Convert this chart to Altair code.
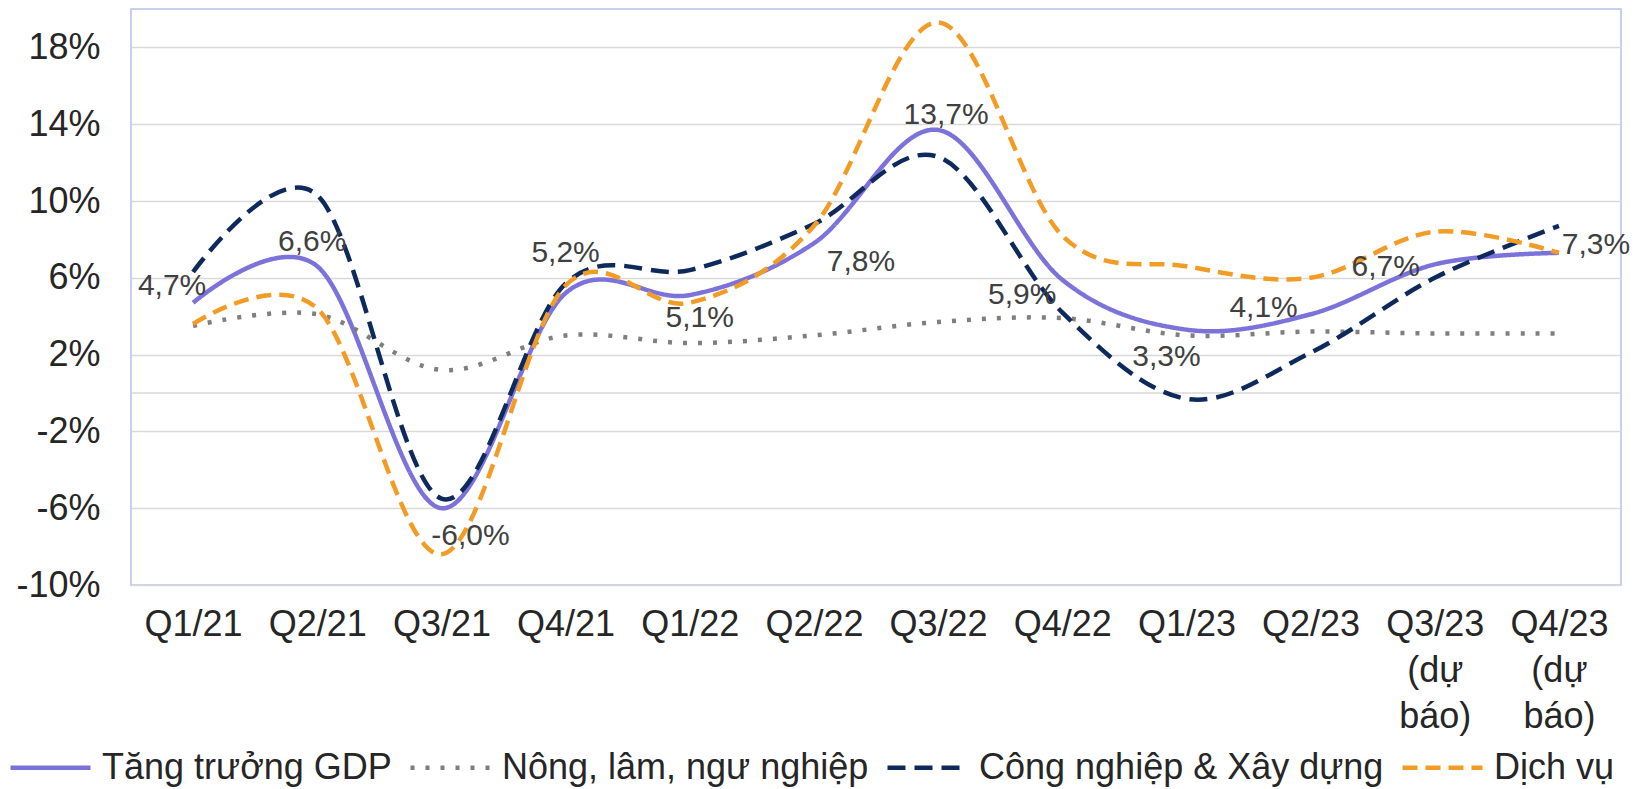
import altair as alt
import pandas as pd

# ---------------- data ----------------
CATEGORIES = ["Q1/21", "Q2/21", "Q3/21", "Q4/21", "Q1/22", "Q2/22", "Q3/22",
              "Q4/22", "Q1/23", "Q2/23", "Q3/23\n(dự\nbáo)", "Q4/23\n(dự\nbáo)"]
SERIES = ["Tăng trưởng GDP", "Nông, lâm, ngư nghiệp", "Công nghiệp & Xây dựng", "Dịch vụ"]
GDP = [4.7, 6.6, -6.0, 5.2, 5.1, 7.8, 13.7, 5.9, 3.3, 4.1, 6.7, 7.3]
AGRI = [3.5, 4.1, 1.2, 3.0, 2.6, 3.0, 3.7, 3.9, 3.0, 3.2, 3.1, 3.1]
INDUSTRY = [6.3, 10.3, -5.5, 5.7, 6.4, 8.8, 12.3, 4.2, -0.3, 2.1, 6.0, 8.7]
SERVICES = [3.6, 4.4, -8.4, 5.6, 4.7, 8.7, 19.3, 8.2, 6.6, 6.0, 8.4, 7.3]
Y_TICKS = [-10, -6, -2, 2, 6, 10, 14, 18]

# ---------------- style ----------------
COLORS = ["#7B72DA", "#7F7F7F", "#0E2A5C", "#F29C25"]
DASHES = [[1, 0], [4, 11], [18, 9], [15, 8]]
# data-label offsets (dx, dy) in px, one per category (Excel-like label placement)
LABEL_OFFSETS = [(-21, -17), (-5, -24), (29, 28), (0, -40), (10, 23), (47, 19),
                 (8, -15), (-40, 15), (-20, 27), (-47, -6), (-49, 3), (37, -8)]
FONT = "Liberation Sans"

rows = []
for s, vals in zip(SERIES, [GDP, AGRI, INDUSTRY, SERVICES]):
    for i, (c, v) in enumerate(zip(CATEGORIES, vals)):
        rows.append({"cat": c, "series": s, "value": v, "idx": i})
df = pd.DataFrame(rows)
gdp_df = pd.DataFrame({"cat": CATEGORIES, "value": GDP, "idx": list(range(len(GDP)))})

x_scale = alt.Scale(type="point", padding=0.5)
x_axis = alt.Axis(title=None, labelExpr="split(datum.label, '\\n')", labelFontSize=36,
                  labelLineHeight=46, labelPadding=22, ticks=False, domain=False,
                  labelOverlap=False, labelColor="#262626", labelAngle=0, grid=False)
y_scale = alt.Scale(domain=[-10, 20], nice=False, zero=False)
y_axis = alt.Axis(title=None, values=Y_TICKS, labelExpr="datum.value + '%'",
                  labelFontSize=36, labelPadding=31, ticks=False, domain=False,
                  grid=True, gridColor="#D9D9D9", gridWidth=1.5, labelColor="#262626")

legend = alt.Legend(title=None, orient="none", legendX=-123, legendY=716,
                    direction="horizontal", columns=4, columnPadding=9,
                    symbolType="stroke", symbolSize=6400,
                    symbolStrokeWidth=4.5, labelFontSize=36,
                    labelFont=FONT, labelColor="#262626",
                    labelLimit=0, labelOffset=9, padding=0)

zero_line = alt.Chart(pd.DataFrame({"z": [0]})).mark_rule(color="#D9D9D9", strokeWidth=1.5).encode(
    y=alt.Y("z:Q", scale=y_scale, axis=y_axis)
)

lines = alt.Chart(df).mark_line(interpolate="cardinal", tension=0, strokeWidth=4.5).encode(
    x=alt.X("cat:N", sort=CATEGORIES, scale=x_scale, axis=x_axis),
    y=alt.Y("value:Q", scale=y_scale, axis=y_axis),
    color=alt.Color("series:N", sort=SERIES,
                    scale=alt.Scale(domain=SERIES, range=COLORS), legend=legend),
    strokeDash=alt.StrokeDash("series:N", sort=SERIES,
                              scale=alt.Scale(domain=SERIES, range=DASHES), legend=legend),
    order=alt.Order("idx:Q"),
)

label_layers = []
for i, (dx, dy) in enumerate(LABEL_OFFSETS):
    label_layers.append(
        alt.Chart(gdp_df).transform_filter(alt.datum.idx == i).transform_calculate(
            lab="(datum.value < 0 ? '-' : '') + replace(format(abs(datum.value), '.1f'), '.', ',') + '%'"
        ).mark_text(font=FONT, fontSize=30, color="#404040", dx=dx, dy=dy,
                    align="center", baseline="middle").encode(
            x=alt.X("cat:N", sort=CATEGORIES, scale=x_scale, axis=x_axis),
            y=alt.Y("value:Q", scale=y_scale, axis=y_axis),
            text="lab:N",
        )
    )

chart = alt.layer(zero_line, lines, *label_layers).resolve_scale(x="shared", y="shared").properties(
    width=1490, height=576,
    autosize=alt.AutoSizeParams(type="none"),
    padding={"left": 123, "top": 1, "right": 14, "bottom": 203},
).configure(font=FONT).configure_view(
    stroke="#B4C2E8", strokeWidth=1.5
)

chart.save("out.html", embed_options={"renderer": "svg", "actions": False})
